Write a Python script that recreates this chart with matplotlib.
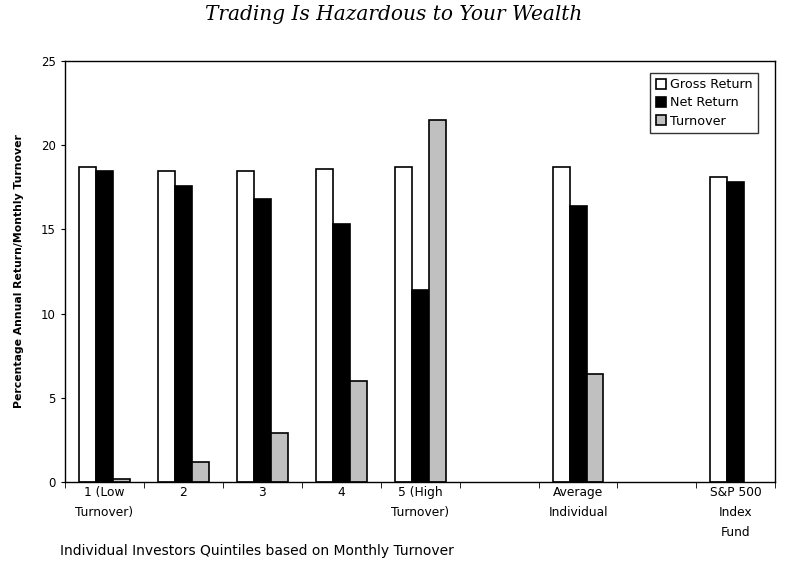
"""
Gross vs net return and turnover for individual investor quintiles,
redrawn from the "Trading Is Hazardous to Your Wealth" figure.
"""

import numpy as np
import matplotlib
import matplotlib.pyplot as plt

matplotlib.use("Agg")

# slot 5 and slot 7 are empty spacers on the axis
categories = ["1 (Low\nTurnover)", "2", "3", "4", "5 (High\nTurnover)", "",
              "Average\nIndividual", "", "S&P 500\nIndex\nFund"]
slots = [0, 1, 2, 3, 4, 6, 8]
gross_return = [18.7, 18.5, 18.5, 18.6, 18.7, 18.7, 18.1]
net_return = [18.5, 17.6, 16.8, 15.3, 11.4, 16.4, 17.8]
turnover = [0.19, 1.2, 2.9, 6.0, 21.5, 6.4, np.nan]


def plot_returns():
    plt.rcParams["font.family"] = ["DejaVu Sans"]
    fig = plt.figure(figsize=(7.92, 5.62), dpi=100)
    ax = fig.add_axes([0.082, 0.1423, 0.897, 0.749])

    x = np.array(slots) + 0.5
    w = 0.215
    ax.bar(x - w, gross_return, w, color="white", edgecolor="black",
           linewidth=1.2, label="Gross Return")
    ax.bar(x, net_return, w, color="black", edgecolor="black",
           linewidth=1.2, label="Net Return")
    ax.bar(x + w, turnover, w, color="#c0c0c0", edgecolor="black",
           linewidth=1.2, label="Turnover")

    ax.set_xlim(0, len(categories))
    ax.set_ylim(0, 25)
    ax.set_yticks(range(0, 26, 5))
    ax.tick_params(axis="y", labelsize=8.5, length=3, direction="out")

    ax.set_xticks(np.arange(len(categories)) + 0.5)
    ax.set_xticklabels(categories, fontsize=8.8, linespacing=1.7)
    ax.set_xticks(np.arange(len(categories) + 1), minor=True)
    ax.tick_params(axis="x", which="major", length=0, pad=3)
    ax.tick_params(axis="x", which="minor", length=4, direction="out")

    for spine in ax.spines.values():
        spine.set_linewidth(1.0)

    ax.set_ylabel("Percentage Annual Return/Monthly Turnover", fontsize=7.8,
                  fontweight="bold", labelpad=12)
    fig.text(0.076, 0.012, "Individual Investors Quintiles based on Monthly Turnover",
             fontsize=10)
    fig.text(0.497, 0.974, "Trading Is Hazardous to Your Wealth",
             fontsize=14.5, family="DejaVu Serif", style="italic",
             ha="center", va="center")

    leg = ax.legend(loc="upper right", bbox_to_anchor=(0.985, 0.988),
                    fontsize=9.2, frameon=True, fancybox=False,
                    handlelength=0.8, handleheight=0.8, handletextpad=0.3,
                    borderpad=0.45, labelspacing=0.4)
    leg.get_frame().set_edgecolor("black")
    leg.get_frame().set_linewidth(1.0)

    fig.savefig("out.png", dpi=100)


def execute():
    plot_returns()


if __name__ == "__main__":
    execute()
